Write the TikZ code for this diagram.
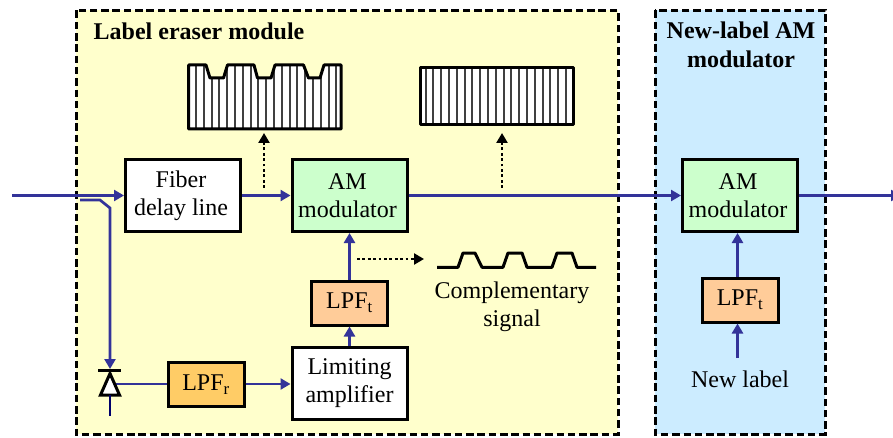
\documentclass[tikz,border=0pt]{standalone}
\usepackage{fontspec}
\setmainfont{Liberation Serif}
\usetikzlibrary{arrows.meta}
\definecolor{wire}{HTML}{333399}
\definecolor{yellowbg}{HTML}{FFFFCC}
\definecolor{bluebg}{HTML}{CCECFF}
\definecolor{amgreen}{HTML}{CCFFCC}
\definecolor{lpftc}{HTML}{FFCC99}
\definecolor{lpfrc}{HTML}{FFCC66}
\newcommand{\lineL}{\hspace*{4pt}}
\tikzset{
  region/.style={draw=black,line width=3pt,dash pattern=on 7.5pt off 3.8pt},
  blockbox/.style={draw=black,line width=3pt,inner sep=0pt,outer sep=1.5pt,align=center,
    font=\fontsize{24}{28}\selectfont},
  wide/.style={blockbox,minimum width=115pt,minimum height=72pt},
  lpf/.style={blockbox,minimum width=76pt,minimum height=44pt,font=\fontsize{24}{28}\selectfont},
  wirearrow/.style={draw=wire,line width=2.7pt,-{Triangle[length=10pt,width=11pt]}},
  wireline/.style={draw=wire,line width=2.7pt},
  probe/.style={draw=black,line width=2.8pt,dash pattern=on 2.8pt off 2.6pt,-{Triangle[length=10pt,width=11pt]}},
  title/.style={font=\fontsize{24}{29}\selectfont\bfseries,align=center,inner sep=0pt},
  caption/.style={font=\fontsize{24}{28}\selectfont,align=center,inner sep=0pt},
  stripe/.style={draw=black!75,line width=2pt},
  outline/.style={draw=black,line width=3pt,line join=round},
}
\begin{document}
\begin{tikzpicture}[x=1pt,y=-1pt]
\useasboundingbox (0,0) rectangle (893,438);
\fill[white] (0,0) rectangle (893,438);
% regions
\path[fill=yellowbg,region] (76,10.5) rectangle (618,434);
\path[fill=bluebg,region] (655,10.5) rectangle (825,434);
\node[title] (t1) at (199,31) {Label eraser module};
\node[title] (t2) at (741,44.5) {New-label AM\\modulator};
% blocks
\node[wide,fill=white] (fiber) at (183,195.5) {Fiber\lineL\\delay line\lineL};
\node[wide,fill=amgreen] (am1) at (349.5,195.5) {AM\lineL\\modulator\lineL};
\node[wide,fill=white] (lim) at (349.5,383.5) {Limiting\\amplifier};
\node[wide,fill=amgreen] (am2) at (740,195.5) {AM\lineL\\modulator\lineL};
\node[lpf,fill=lpftc] (lpft1) at (349.5,303) {LPF\textsubscript{t}};
\node[lpf,fill=lpfrc] (lpfr) at (206,384.5) {LPF\textsubscript{r}};
\node[lpf,fill=lpftc] (lpft2) at (740,300) {LPF\textsubscript{t}};
\node[caption] (newlabel) at (740,379) {New label};
\node[caption] (comp) at (512,307) {Complementary\\signal};
% free ends
\coordinate (in) at (12,195.5);
\coordinate (out) at (901,195.5);
\coordinate (tapA) at (80,200);
\coordinate (tapB) at (100,200);
\coordinate (tapC) at (110,208);
\coordinate (pdTop) at (110,369);
\coordinate (pdOut) at (116,384);
\coordinate (pdBase) at (110,395);
\coordinate (pdLead) at (110,416);
\coordinate (nlTop) at (737.5,358);
% main connectors
\draw[wirearrow] (in) -- (fiber.west |- in);
\draw[wirearrow] (fiber.east |- in) -- (am1.west |- in);
\draw[wirearrow] (am1.east |- in) -- (am2.west |- in);
\draw[wirearrow] (am2.east |- in) -- (out);
\draw[wirearrow] (tapA) -- (tapB) -- (tapC) -- (pdTop);
\draw[wireline] (pdOut) -- (lpfr.west |- pdOut);
\draw[wirearrow] (lpfr.east |- pdOut) -- (lim.west |- pdOut);
\draw[wirearrow] (lim.north) -- (lpft1.south);
\draw[wirearrow] (lpft1.north) -- (am1.south);
\draw[wirearrow] (nlTop) -- (nlTop |- lpft2.south);
\draw[wirearrow] (nlTop |- lpft2.north) -- (nlTop |- am2.south);
% photodiode
\draw[draw=black,line width=3pt] (98,370) -- (121,370);
\draw[fill=white,draw=black,line width=3pt,line join=miter] (110,373.5) -- (119.5,395) -- (100.5,395) -- cycle;
\draw[draw=black!30!blue!60!black,line width=2.7pt] (pdBase) -- (pdLead);
% probes
\coordinate (p1a) at (264,188); \coordinate (p1b) at (264,133);
\coordinate (p2a) at (502,188); \coordinate (p2b) at (502,133);
\coordinate (p3a) at (357,259); \coordinate (p3b) at (424,259);
\draw[probe] (p1a) -- (p1b);
\draw[probe] (p2a) -- (p2b);
\draw[probe] (p3a) -- (p3b);
% complementary waveform
\draw[outline] (437,267.3) -- (458,267.3) -- (463,253) -- (475,253) -- (482,267.3)
  -- (503,267.3) -- (508,253) -- (522,253) -- (527,267.3)
  -- (552,267.3) -- (557,253) -- (572,253) -- (577,267.3) -- (596,267.3);
% labelled signal
\fill[white] (188.5,65) -- (206,65) -- (210,78) -- (223.5,78) -- (227.5,65) -- (254,65) -- (257.5,78) -- (271,78) -- (275,65)
  -- (303.5,65) -- (308.5,78) -- (320,78) -- (324,65) -- (341,65) -- (341,129) -- (188.5,129) -- cycle;
\begin{scope}
\clip (188.5,65) -- (206,65) -- (210,78) -- (223.5,78) -- (227.5,65) -- (254,65) -- (257.5,78) -- (271,78) -- (275,65)
  -- (303.5,65) -- (308.5,78) -- (320,78) -- (324,65) -- (341,65) -- (341,129) -- (188.5,129) -- cycle;
\foreach \k in {0,...,18} \draw[stripe] ({196+7.8*\k},60) -- ({196+7.8*\k},130);
\end{scope}
\draw[outline] (188.5,65) -- (206,65) -- (210,78) -- (223.5,78) -- (227.5,65) -- (254,65) -- (257.5,78) -- (271,78) -- (275,65)
  -- (303.5,65) -- (308.5,78) -- (320,78) -- (324,65) -- (341,65) -- (341,129) -- (188.5,129) -- cycle;
% erased signal
\fill[white] (420,67.5) rectangle (573,125);
\foreach \k in {0,...,18} \draw[stripe] ({425.5+7.8*\k},67.5) -- ({425.5+7.8*\k},125);
\draw[outline] (420,67.5) rectangle (573,125);
\end{tikzpicture}
\end{document}
